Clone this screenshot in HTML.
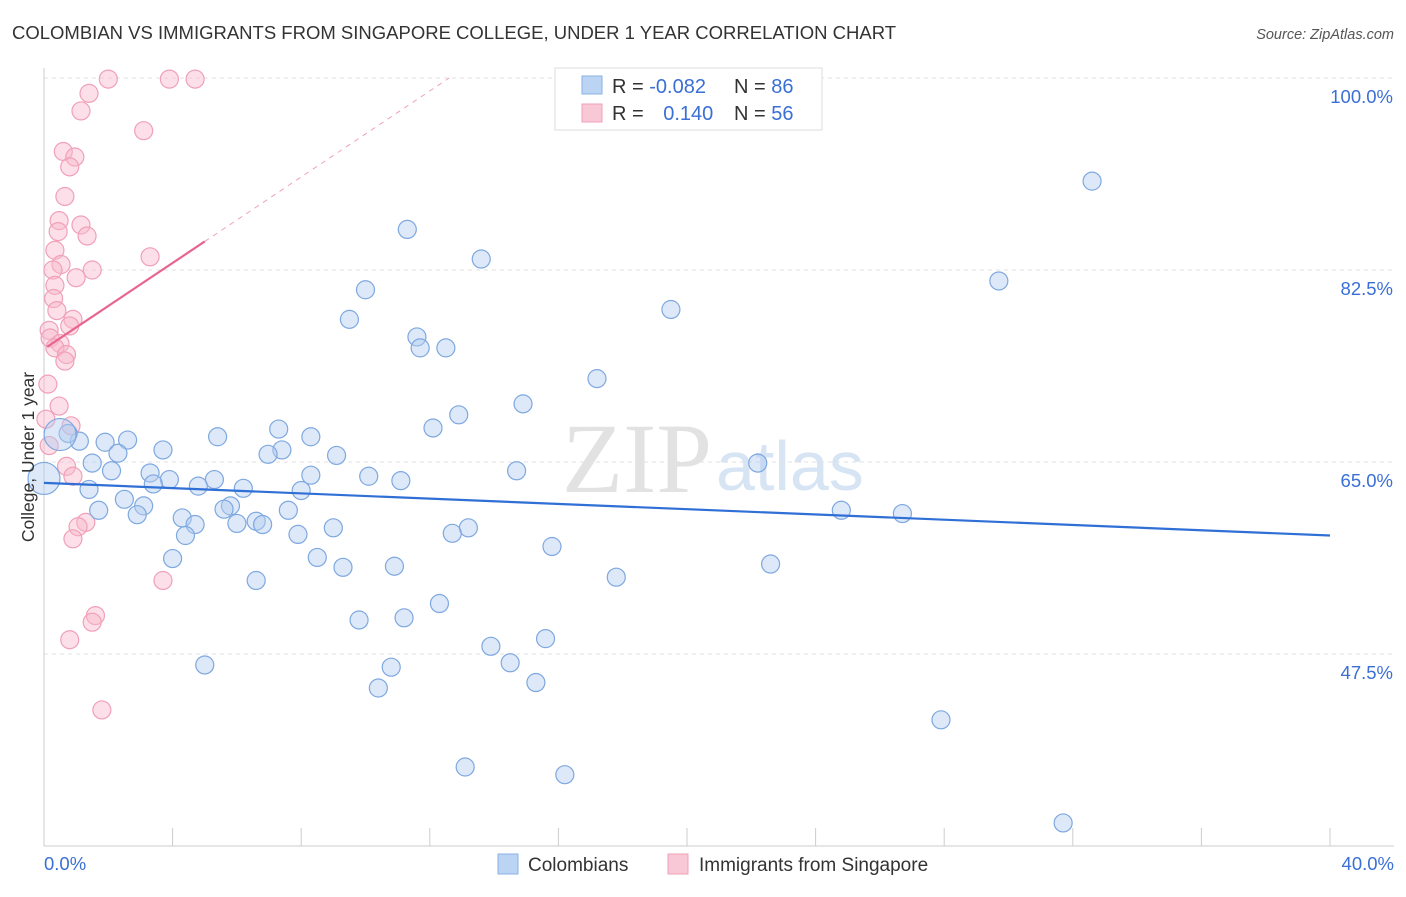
<!DOCTYPE html>
<html><head><meta charset="utf-8"><style>
body{margin:0;background:#fff;font-family:"Liberation Sans",sans-serif;}
</style></head><body>
<svg id="c" width="1406" height="892" xmlns="http://www.w3.org/2000/svg" font-family="Liberation Sans, sans-serif">
<text x="12" y="39" font-size="18.5" fill="#333">COLOMBIAN VS IMMIGRANTS FROM SINGAPORE COLLEGE, UNDER 1 YEAR CORRELATION CHART</text>
<text x="1394" y="39" font-size="14.5" fill="#555" text-anchor="end" font-style="italic">Source: ZipAtlas.com</text>
<text x="712" y="492" font-size="100" fill="#e2e2e2" text-anchor="end" style="font-family:'Liberation Serif',serif">ZIP</text>
<text x="716" y="490" font-size="70" fill="#d6e4f4">atlas</text>
<g id="grid"></g><g id="marks"></g>
<text transform="translate(34,457) rotate(-90)" font-size="17.5" fill="#333" text-anchor="middle">College, Under 1 year</text>
<g>
<rect x="555" y="68" width="267" height="62" fill="#fff" stroke="#ddd"/>
<rect x="582" y="76" width="20" height="18" fill="#bcd4f3" stroke="#8ab0e4"/>
<rect x="582" y="104" width="20" height="18" fill="#f9c8d7" stroke="#f0a0b8"/>
<text x="612" y="93" font-size="20" fill="#333">R = <tspan fill="#3a6fd6">-0.082</tspan></text>
<text x="734" y="93" font-size="20" fill="#333">N = <tspan fill="#3a6fd6">86</tspan></text>
<text x="612" y="120" font-size="20" fill="#333">R = <tspan fill="#3a6fd6" dx="14">0.140</tspan></text>
<text x="734" y="120" font-size="20" fill="#333">N = <tspan fill="#3a6fd6">56</tspan></text>
</g>
<g>
<rect x="498" y="854" width="20" height="20" fill="#bcd4f3" stroke="#8ab0e4"/>
<text x="528" y="871" font-size="19" fill="#333">Colombians</text>
<rect x="668" y="854" width="20" height="20" fill="#f9c8d7" stroke="#f0a0b8"/>
<text x="699" y="871" font-size="19" fill="#333">Immigrants from Singapore</text>
</g>
</svg>
<script>
const yTicks=[47.5,65.0,82.5,100.0];
const xTickLabels=["0.0%","40.0%"];
const blueX=[32.6,29.7,11.3,13.6,19.5,10.0,9.5,11.6,11.7,12.5,17.2,14.9,12.9,12.1,7.3,8.3,5.4,2.6,1.9,1.1,0.75,3.7,2.3,7.4,6.97,9.1,22.2,14.7,1.5,2.1,3.3,3.9,3.4,5.3,8.3,10.1,11.1,1.4,4.8,6.2,8.0,2.5,3.1,5.8,5.6,1.7,2.9,7.6,24.8,26.7,4.3,4.7,6.0,6.6,6.8,9.0,13.2,12.7,4.4,7.9,15.8,4.0,8.5,9.3,10.9,22.6,17.8,6.6,12.3,11.2,9.8,15.6,13.9,5.0,10.8,14.5,15.3,10.4,27.9,13.1,16.2,31.7];
const blueY=[90.6,81.5,86.2,83.5,78.9,80.7,78.0,76.4,75.4,75.4,72.6,70.3,69.3,68.1,68.0,67.3,67.3,67.0,66.8,66.9,67.6,66.1,65.8,66.1,65.7,65.6,64.9,64.2,64.9,64.2,64.0,63.4,63.0,63.4,63.8,63.7,63.3,62.5,62.8,62.6,62.4,61.6,61.0,61.0,60.7,60.6,60.2,60.6,60.6,60.3,59.9,59.3,59.4,59.6,59.3,59.0,59.0,58.5,58.3,58.4,57.3,56.2,56.3,55.4,55.5,55.7,54.5,54.2,52.1,50.8,50.6,48.9,48.2,46.5,46.3,46.7,44.9,44.4,41.5,37.2,36.5,32.1];
const blueBigX=[0.5,0.0];
const blueBigY=[67.5,63.5];
const pinkX=[2.0,3.9,4.7,1.4,1.15,3.1,0.6,0.96,0.8,0.65,0.47,1.15,0.44,1.34,0.34,3.3,0.53,0.28,1.5,1.0,0.34,0.3,0.4,0.9,0.8,0.16,0.19,0.5,0.34,0.7,0.65,0.12,0.47,0.84,0.06,0.16,0.7,0.9,1.3,1.06,0.9,3.7,1.6,1.5,0.8,1.8];
const pinkY=[99.9,99.9,99.9,98.6,97.0,95.2,93.3,92.8,91.9,89.2,87.0,86.6,86.0,85.6,84.3,83.7,83.0,82.5,82.5,81.8,81.1,79.9,78.8,78.0,77.4,77.0,76.3,75.8,75.4,74.8,74.2,72.1,70.1,68.3,68.9,66.5,64.6,63.7,59.5,59.1,58.0,54.2,51.0,50.4,48.8,42.4];
const blueTrend=[63.1,58.3]; // at x=0 and x=40
const pinkTrend=[75.3,1.96]; // intercept, slope
const X=v=>44+v/40*1286, Y=v=>78+(100-v)/17.5*192;
const NS="http://www.w3.org/2000/svg";
const g=document.getElementById('grid'), m=document.getElementById('marks');
function mk(tag,at,p){const e=document.createElementNS(NS,tag);for(const k in at)e.setAttribute(k,at[k]);p.appendChild(e);return e;}
yTicks.forEach(t=>{const l=mk('line',{x1:44,x2:1394,y1:Y(t),y2:Y(t),stroke:'#e2e2e2','stroke-dasharray':'4,4'},g);


const tx=mk('text',{x:1393,y:Y(t)+25,'font-size':18.5,fill:'#3a6fd6','text-anchor':'end'},g);tx.textContent=t.toFixed(1)+'%';

});
const ax=mk('line',{x1:44,x2:44,y1:68,y2:846,stroke:'#ccc'},g);


const bx=mk('line',{x1:44,x2:1394,y1:846,y2:846,stroke:'#ccc'},g);


for(let i=0;i<=10;i++){const t=mk('line',{x1:X(i*4),x2:X(i*4),y1:828,y2:846,stroke:'#ccc'},g);

}
[[0,'start',44],[40,'end',1394]].forEach((a,i)=>{const t=mk('text',{x:a[2],y:870,'font-size':18.5,fill:'#3a6fd6','text-anchor':a[1]},g);t.textContent=xTickLabels[i];

});
function pts(xs,ys,r,f,s,name){xs.forEach((x,i)=>{const c=mk('circle',{cx:X(x),cy:Y(ys[i]),r:r,fill:f,stroke:s,'stroke-width':1.2},m);

});}
pts(pinkX,pinkY,9,'rgba(248,185,205,0.45)','#f0a0b8','point-singapore');
pts(blueX,blueY,9,'rgba(180,205,240,0.45)','#7ea8e0','point-colombian');
pts(blueBigX,blueBigY,16,'rgba(180,205,240,0.45)','#7ea8e0','point-colombian-large');
const bl=mk('line',{x1:X(0),y1:Y(blueTrend[0]),x2:X(40),y2:Y(blueTrend[1]),stroke:'#2f6fd6','stroke-width':2.2},m);


const pe=(100-pinkTrend[0])/pinkTrend[1];
const pd=mk('line',{x1:X(5),y1:Y(pinkTrend[0]+5*pinkTrend[1]),x2:X(pe),y2:Y(100),stroke:'#f0a0b8','stroke-width':1,'stroke-dasharray':'5,5'},m);


const pl=mk('line',{x1:X(0.1),y1:Y(pinkTrend[0]+0.1*pinkTrend[1]),x2:X(5),y2:Y(pinkTrend[0]+5*pinkTrend[1]),stroke:'#e8658f','stroke-width':2.2},m);


</script>
</body></html>
